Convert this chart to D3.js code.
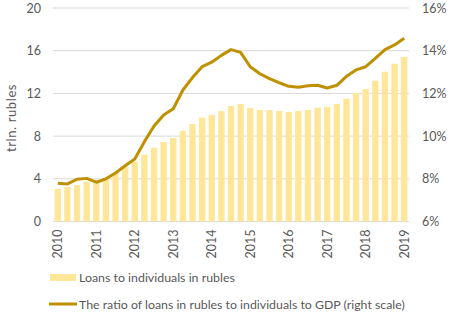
<!DOCTYPE html>
<html><head><meta charset="utf-8">
<script src="https://cdn.jsdelivr.net/npm/d3@7"></script>
<style>body{margin:0;background:#fff}svg text{font-family:Lato,"Liberation Sans",sans-serif;fill:#595959}</style>
</head><body><svg id="c" width="452" height="322"></svg>
<script>
const years = ["2010","2011","2012","2013","2014","2015","2016","2017","2018","2019"];
const loans = [3.05,3.23,3.42,3.73,3.64,3.95,4.57,5.13,5.6,6.26,6.92,7.45,7.83,8.48,9.13,9.73,9.98,10.35,10.82,11.0,10.63,10.45,10.45,10.35,10.26,10.35,10.45,10.66,10.73,11.0,11.5,12.04,12.41,13.19,14.03,14.78,15.41];
const ratio = [7.79,7.76,7.98,8.02,7.84,8.0,8.27,8.61,8.93,9.74,10.47,10.99,11.28,12.16,12.74,13.25,13.46,13.78,14.05,13.92,13.25,12.92,12.69,12.5,12.33,12.29,12.36,12.38,12.25,12.38,12.8,13.1,13.25,13.64,14.05,14.27,14.58];
const leftTicks = [0,4,8,12,16,20];
const rightTicks = [6,8,10,12,14,16];
const legendLabels = ["Loans to individuals in rubles","The ratio of loans in rubles to individuals to GDP (right scale)"];

const svg = d3.select("#c");
const L=53,R=409,T=8,B=221.5;
const idx = d3.range(loans.length);
const x = d3.scaleBand().domain(idx).range([L,R]).paddingInner(0.34).paddingOuter(0.17);
const y = d3.scaleLinear().domain([0,20]).range([B,T]);
const y2 = d3.scaleLinear().domain([6,16]).range([B,T]);

function fitWidth(sel, target){
  const w = sel.node().getComputedTextLength();
  const fs = parseFloat(sel.attr("font-size"));
  sel.attr("font-size", (fs*target/w).toFixed(2));
}

// grid
svg.append("g").selectAll("line").data(leftTicks).join("line")
  .attr("x1",L).attr("x2",R).attr("y1",d=>y(d)).attr("y2",d=>y(d))
  .attr("stroke","#d9d9d9").attr("stroke-width",1);

// bars
svg.append("g").selectAll("rect").data(loans).join("rect")
  .attr("x",(d,i)=>x(i)).attr("width",x.bandwidth())
  .attr("y",d=>y(d)).attr("height",d=>B-y(d)).attr("fill","#ffe699");

// line
const line = d3.line().x((d,i)=>x(i)+x.bandwidth()/2).y(d=>y2(d));
svg.append("path").datum(ratio).attr("d",line).attr("fill","none")
  .attr("stroke","#bf9000").attr("stroke-width",3).attr("stroke-linejoin","round");

// left axis
const la = svg.append("g").attr("transform",`translate(${L},0)`)
  .call(d3.axisLeft(y).tickValues(leftTicks).tickSize(0).tickPadding(12));
la.select(".domain").remove();
la.selectAll("text").attr("font-size",12.5).style("font-family","Lato,sans-serif").attr("fill","#595959");

// right axis
const ra = svg.append("g").attr("transform",`translate(${R},0)`)
  .call(d3.axisRight(y2).tickValues(rightTicks).tickSize(0).tickPadding(13).tickFormat(d=>d+"%"));
ra.select(".domain").remove();
ra.selectAll("text").attr("font-size",12.5).style("font-family","Lato,sans-serif").attr("fill","#595959");

// bottom axis with year labels at Q1 bars
const xb = d3.scaleOrdinal().domain(years).range(years.map((d,i)=>x(i*4)+x.bandwidth()/2));
svg.append("g").selectAll("text").data(years).join("text")
  .attr("transform",d=>`translate(${xb(d)+4.5},${B+8}) rotate(-90)`)
  .attr("text-anchor","end").attr("font-size",12.5).text(d=>d);

// y label
const yl = svg.append("text").attr("transform","translate(15.5,118) rotate(-90)")
  .attr("text-anchor","middle").attr("font-size",13).style("letter-spacing","0.6px").text("trln. rubles");

// legend
svg.append("rect").attr("x",50).attr("y",274).attr("width",26).attr("height",7).attr("fill","#ffe699");
const t1 = svg.append("text").attr("x",79).attr("y",281.5).attr("font-size",12.5).text(legendLabels[0]);
fitWidth(t1,156);
svg.append("line").attr("x1",49).attr("x2",77).attr("y1",304).attr("y2",304).attr("stroke","#bf9000").attr("stroke-width",3);
const t2 = svg.append("text").attr("x",79).attr("y",309).attr("font-size",12.5).text(legendLabels[1]);
fitWidth(t2,326);
</script></body></html>
